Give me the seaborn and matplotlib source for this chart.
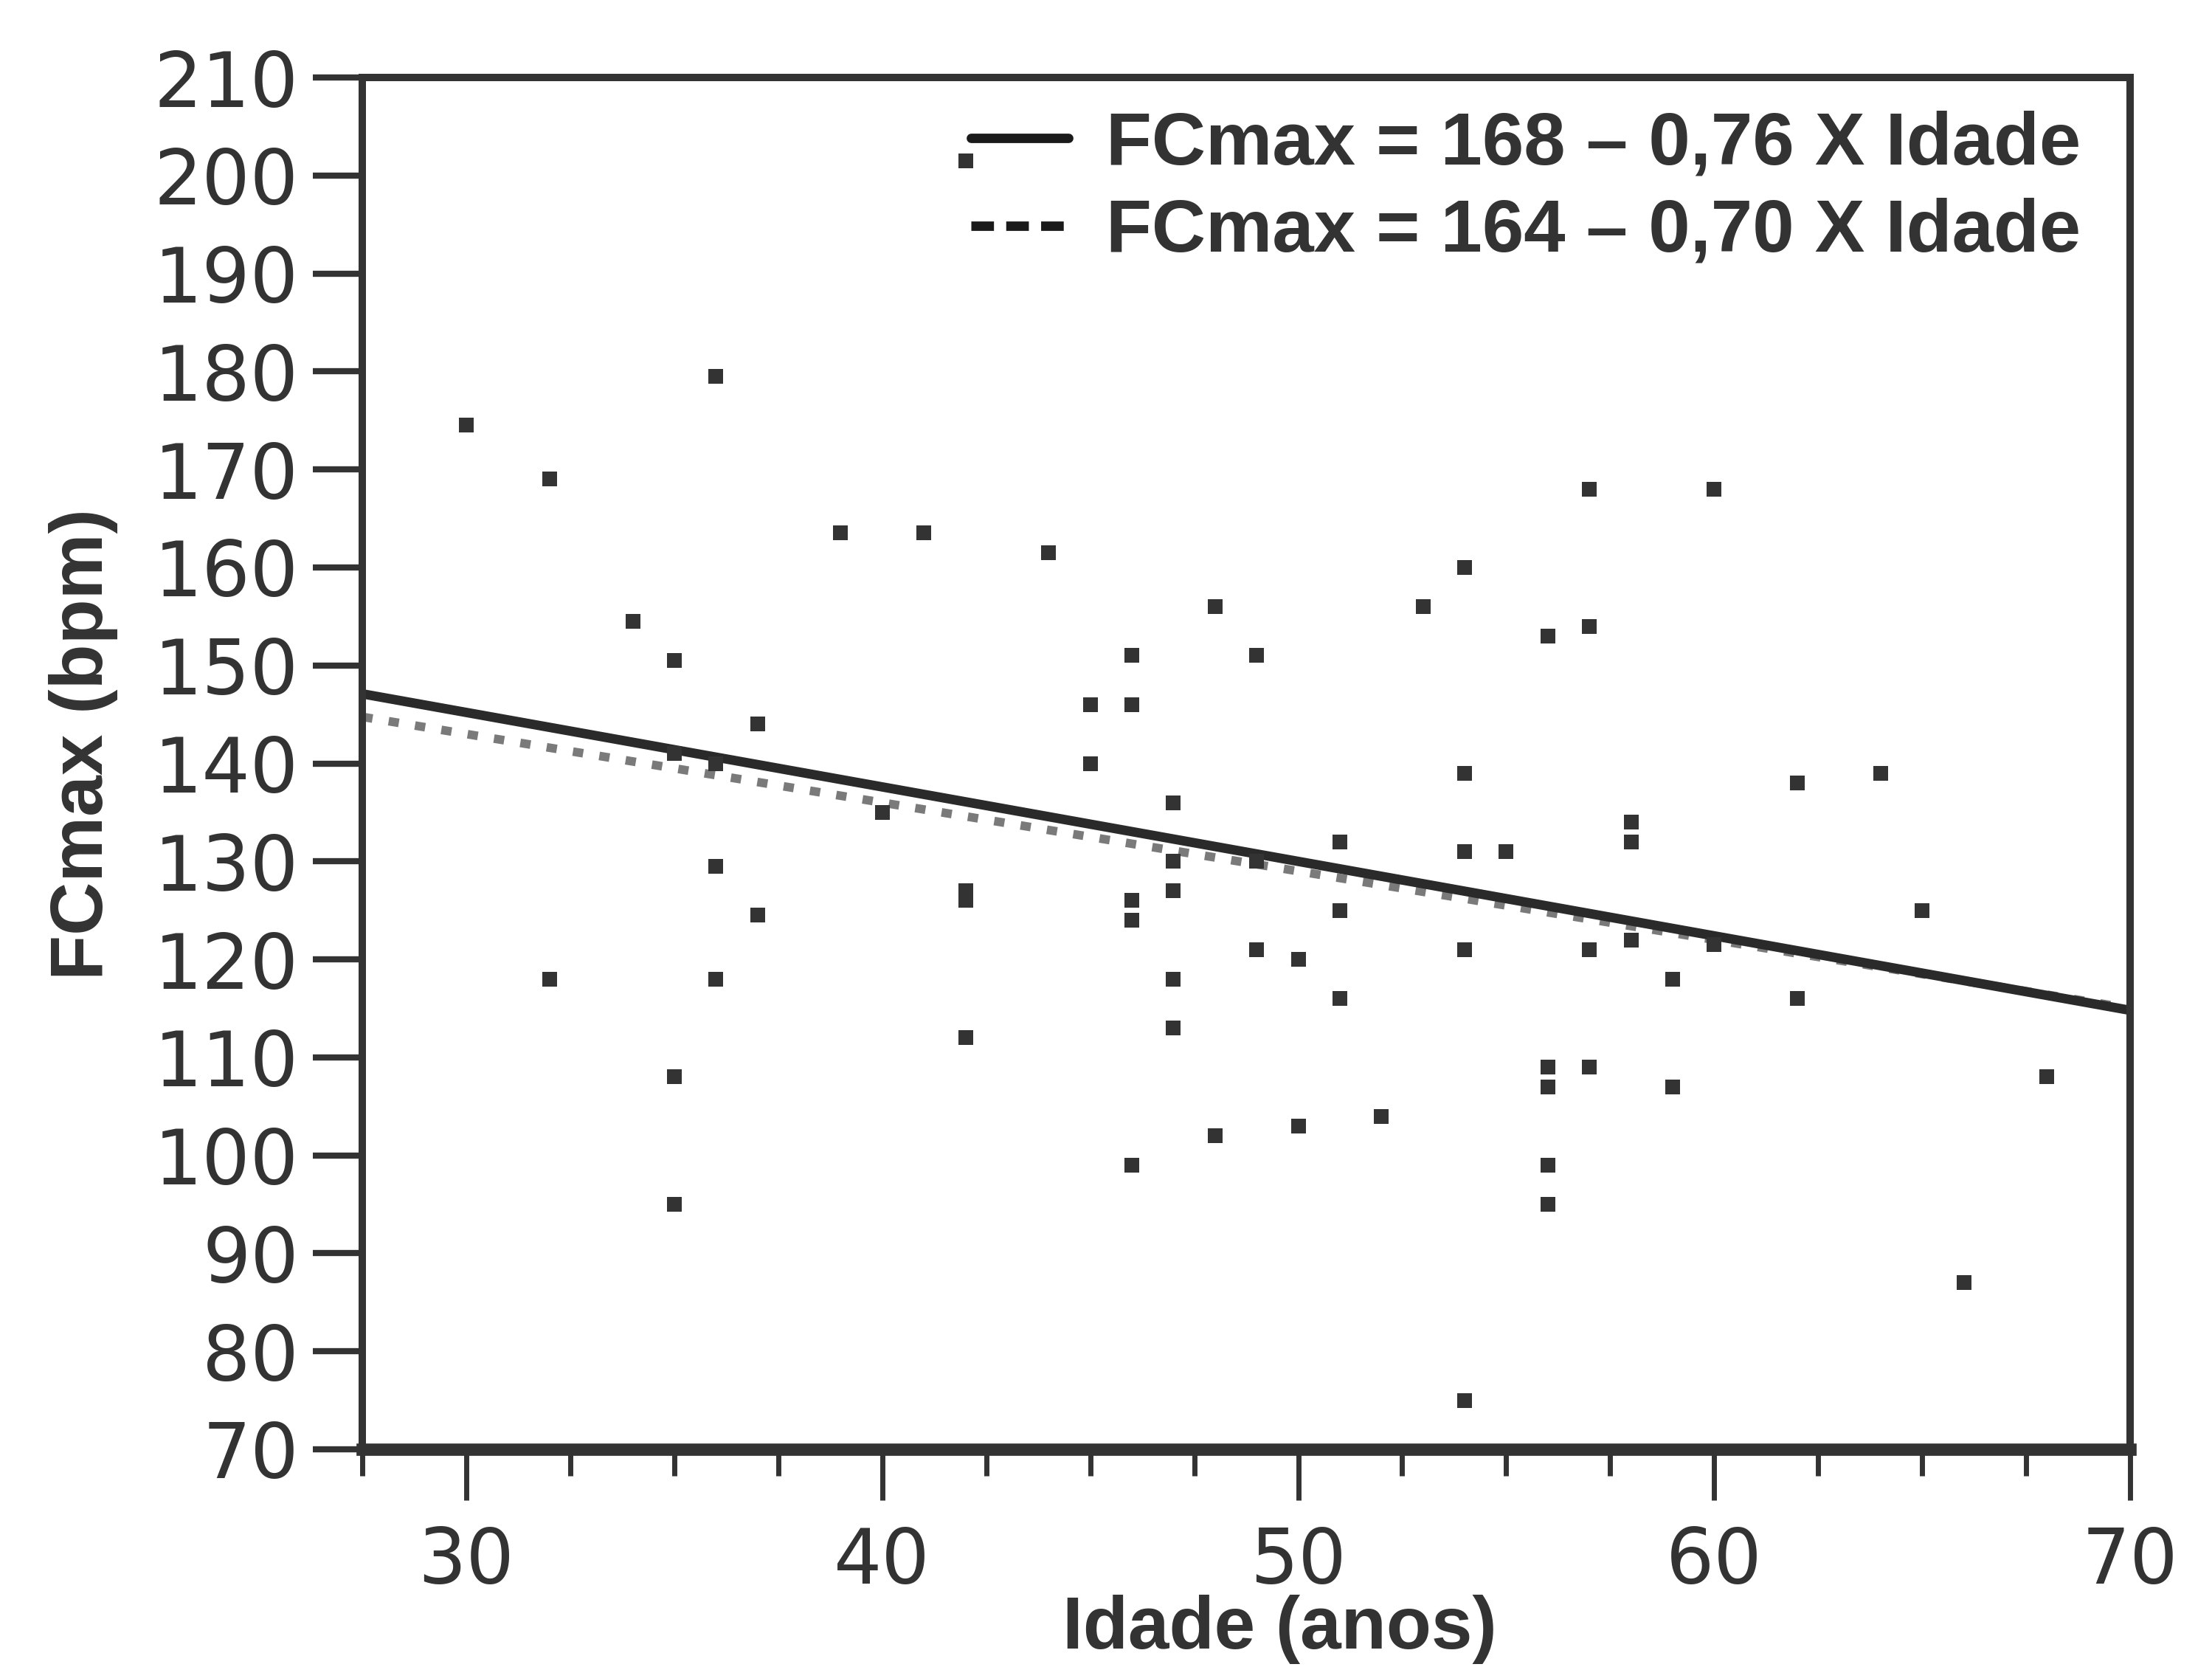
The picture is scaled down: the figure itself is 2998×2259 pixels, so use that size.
import matplotlib
matplotlib.use("Agg")
import numpy as np
import pandas as pd
import seaborn as sns
from matplotlib import pyplot as plt
from matplotlib.lines import Line2D
from matplotlib.ticker import MultipleLocator

# data
idade = [30, 32, 32, 34, 35, 35, 35, 35, 36, 36, 36, 36, 37, 37, 39, 40, 41,
         42, 42, 42, 42, 44, 45, 45, 46, 46, 46, 46, 46, 47, 47, 47, 47, 47,
         48, 48, 49, 49, 49, 50, 50, 51, 51, 51, 52, 53, 54, 54, 54, 54, 54,
         55, 56, 56, 56, 56, 56, 57, 57, 57, 57, 58, 58, 58, 59, 59, 60, 60,
         62, 62, 64, 65, 66, 68]
fcmax = [174.5, 169, 118, 154.5, 150.5, 141, 108, 95, 179.5, 140, 129.5, 118,
         144, 124.5, 163.5, 135, 163.5,
         201.5, 127, 126, 112, 161.5, 146, 140, 151, 146, 126, 124, 99,
         136, 130, 127, 118, 113,
         156, 102, 151, 130, 121, 120, 103, 132, 125, 116, 104, 156,
         160, 139, 131, 121, 75,
         131, 153, 109, 107, 99, 95, 168, 154, 121, 109, 134, 132, 122,
         118, 107, 168, 121.5,
         138, 116, 139, 125, 87, 108]

# regression lines given in the legend
intercepts = [168, 164]
slopes = [0.76, 0.70]
line_labels = ["FCmax = 168 \u2013 0,76 X Idade", "FCmax = 164 \u2013 0,70 X Idade"]
x_range = [27.5, 70]

ink = "#333333"

sns.set_style("ticks")
plt.rcParams["font.family"] = ["DejaVu Sans"]

fig = plt.figure(figsize=(14.99, 11.295), dpi=200)
ax = fig.add_axes([0.1638, 0.1306, 0.7992, 0.8229])

lines = pd.DataFrame({
    "x": x_range * 2,
    "y": [b - m * x for b, m in zip(intercepts, slopes) for x in x_range],
    "equation": [lab for lab in line_labels for _ in x_range],
})

# dotted line first so the solid one sits on top
sns.lineplot(data=lines[lines["equation"] == line_labels[1]], x="x", y="y",
             ax=ax, color="#7a7a7a", linewidth=4.2,
             linestyle=(0, (1.2, 1.9)), legend=False)
sns.lineplot(data=lines[lines["equation"] == line_labels[0]], x="x", y="y",
             ax=ax, color="#2a2a2a", linewidth=4.6, legend=False)
ax.lines[0].set_dash_capstyle("butt")

pts = pd.DataFrame({"idade": idade, "fcmax": fcmax})
sns.scatterplot(data=pts, x="idade", y="fcmax", ax=ax, marker="s", s=55,
                color=ink, linewidth=0, zorder=3)

ax.set_xlim(27.5, 70)
ax.set_ylim(70, 210)
ax.xaxis.set_major_locator(MultipleLocator(10))
ax.xaxis.set_minor_locator(MultipleLocator(2.5))
ax.yaxis.set_major_locator(MultipleLocator(10))

for side in ["left", "top", "right"]:
    ax.spines[side].set_linewidth(3.6)
    ax.spines[side].set_color(ink)
ax.spines["bottom"].set_linewidth(6)
ax.spines["bottom"].set_color(ink)

ax.tick_params(axis="y", which="major", length=24, width=3, color=ink,
               labelsize=37, labelcolor=ink, pad=7, direction="out")
ax.tick_params(axis="x", which="major", length=25, width=2.5, color=ink,
               labelsize=37, labelcolor=ink, pad=12, direction="out")
ax.tick_params(axis="x", which="minor", length=13, width=2.5, color=ink,
               direction="out")

ax.set_xlabel("Idade (anos)", fontsize=36, fontweight="bold", color=ink,
              family=["Liberation Sans", "DejaVu Sans"])
ax.set_ylabel("FCmax (bpm)", fontsize=36, fontweight="bold", color=ink,
              family=["Liberation Sans", "DejaVu Sans"])
ax.xaxis.set_label_coords(0.519, -0.106)
ax.yaxis.set_label_coords(-0.138, 0.514)

handles = [
    Line2D([0], [0], color="#1a1a1a", linewidth=4.6),
    Line2D([0], [0], color="#1a1a1a", linewidth=4.6, linestyle=(0, (2.4, 1.3))),
]
ax.legend(handles, line_labels, loc="upper right",
          bbox_to_anchor=(0.972, 0.976), frameon=False, borderaxespad=0,
          borderpad=0, handlelength=1.3, handletextpad=0.5,
          labelspacing=0.24,
          prop={"family": ["Liberation Sans", "DejaVu Sans"],
                "weight": "bold", "size": 36.5},
          labelcolor=ink)

fig.savefig("out.png", dpi=200, facecolor="white")
plt.close(fig)
